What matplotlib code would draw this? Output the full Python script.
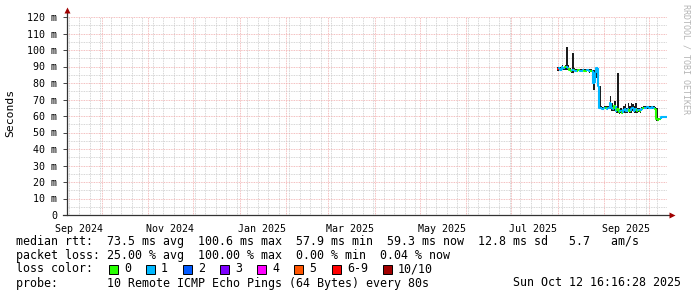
import matplotlib
matplotlib.use("Agg")
import matplotlib.pyplot as plt
import matplotlib.dates as mdates
import numpy as np
import pandas as pd
from matplotlib.patches import Rectangle

W, H = 697, 297
MONO = "DejaVu Sans Mono"

# time range of the graph (400 days back from the time stamp)
t_end = pd.Timestamp("2025-10-12 16:16:28")
t_start = t_end - pd.Timedelta(days=400)

# daily samples
data_start = "2025-07-31 12:00"
median_ms = [88.5, 89, 88, 89.5, 89, 90, 90, 89, 88, 87, 88, 88, 87.5, 87.5, 88,
             87.5, 87.5, 88, 87.5, 87.5, 88, 87.5, 87.5, 87, 80, 86, 89, 78, 65,
             65, 64.5, 65, 65, 64.5, 65, 68, 65, 64, 66, 63, 64, 62.5, 63, 62,
             63.5, 64, 63, 64.5, 63, 64, 65, 63, 64, 63, 63.5, 63, 64.5, 65, 65,
             65, 65.5, 65, 65, 65.5, 65, 64.5, 58, 57.5, 58, 59.5, 59.5, 59.5, 59.3]
smoke_lo = [87, 88, 87, 88, 88, 88, 88, 88, 87, 86, 86, 87, 87, 87, 87,
            87, 87, 87, 87, 87, 87, 86, 87, 84, 76, 80, 83, 76, 64,
            64, 64, 64, 64, 64, 64, 64, 63, 63, 63, 62, 62, 61.5, 62, 61,
            62, 62, 62, 63, 62, 62, 63, 62, 62, 62, 62.5, 62, 64, 64, 64.5,
            64.5, 64.5, 64.5, 64.5, 64.5, 64, 64, 57, 57, 57.5, 59, 59, 59, 59]
smoke_hi = [90, 90, 89.5, 91, 90, 91, 102, 91, 89, 88, 98, 89, 88.5, 88.5, 88.5,
            88.5, 88.5, 88.5, 88.5, 88.5, 88.5, 88.5, 88.5, 88, 88, 88, 90, 89, 78,
            66, 65.5, 66, 66, 66, 66, 72, 68, 65, 69, 64, 86, 64, 65, 63,
            66, 67, 65, 68, 66, 68, 67, 66, 68, 65, 65, 64, 65.5, 66, 66,
            66, 66, 66, 66, 66, 66, 65.5, 65, 58.5, 59, 60, 60, 60, 60]
loss_code = [6, 1, 1, 1, 1, 0, 1, 1, 0, 0, 1, 0, 1, 0, 0,
             1, 1, 1, 0, 0, 1, 1, 0, 1, 1, 1, 1, 1, 1,
             1, 1, 1, 0, 1, 1, 1, 1, 1, 0, 1, 0, 0, 1, 0,
             1, 1, 1, 1, 0, 1, 1, 1, 1, 0, 1, 0, 1, 0, 1,
             1, 1, 1, 1, 1, 1, 0, 0, 0, 0, 1, 1, 1, 1]

loss_labels = ["0", "1", "2", "3", "4", "5", "6-9", "10/10"]
loss_colors = ["#26ff00", "#00b8ff", "#0059ff", "#7e00ff", "#ff00ff",
               "#ff5500", "#ff0000", "#a10000"]
code_color = {0: 0, 1: 1, 2: 2, 3: 3, 4: 4, 5: 5, 6: 6, 7: 6, 8: 6, 9: 6, 10: 7}

y_ticks = list(range(0, 130, 10))
y_labels = ["0"] + [f"{v} m" for v in y_ticks[1:]]
month_labels = ["2024-09", "2024-11", "2025-01", "2025-03", "2025-05", "2025-07", "2025-09"]

legend_rows = [
    "median rtt:  73.5 ms avg  100.6 ms max  57.9 ms min  59.3 ms now  12.8 ms sd   5.7   am/s",
    "packet loss: 25.00 % avg  100.00 % max  0.00 % min  0.04 % now",
    "loss color:",
    "probe:       10 Remote ICMP Echo Pings (64 Bytes) every 80s",
]
stamp = "Sun Oct 12 16:16:28 2025"
FS = 8.34

fig = plt.figure(figsize=(W / 100, H / 100), dpi=100)
fig.patch.set_facecolor("white")
ax = fig.add_axes([67 / W, (H - 215) / H, 600 / W, 198 / H])
ax.set_facecolor("white")

days = pd.date_range(data_start, periods=len(median_ms), freq="D")
t = mdates.date2num(days)
step = 1.0

# smoke
ax.bar(t, np.array(smoke_hi) - np.array(smoke_lo), bottom=smoke_lo, width=step,
       align="edge", color="#1c1c1c", linewidth=0, zorder=3)

# median line coloured by loss
prev = median_ms[0]
for i, m in enumerate(median_ms):
    c = loss_colors[code_color[loss_code[i]]]
    ax.plot([t[i], t[i], t[i] + step], [prev, m, m], color=c, lw=1.5,
            solid_capstyle="butt", zorder=4)
    prev = m

ax.set_xlim(mdates.date2num(t_start), mdates.date2num(t_end))
ax.set_ylim(0, 120)

# grid
ax.xaxis.set_major_locator(mdates.MonthLocator(bymonthday=1))
ax.xaxis.set_minor_locator(mdates.WeekdayLocator(byweekday=mdates.MO))
ax.xaxis.set_major_formatter(plt.NullFormatter())
ax.set_yticks(y_ticks)
ax.set_yticklabels(y_labels, family=MONO, fontsize=7.2)
ax.set_yticks(np.arange(5, 120, 10), minor=True)
ax.grid(which="minor", color="#c8c8c8", lw=0.6, ls=(0, (1, 1)), zorder=0)
ax.grid(which="major", color="#f0a8a8", lw=0.6, ls=(0, (1, 1)), zorder=1)
ax.tick_params(axis="x", which="both", length=0)
ax.tick_params(axis="y", which="major", length=3, width=0.7, color="#444444", pad=4)
ax.tick_params(axis="y", which="minor", length=0)

# month labels, every second month, centred on mid-month
for ym in month_labels:
    lab_day = pd.Timestamp(ym + "-15 12:00")
    ax.text(mdates.date2num(lab_day), -0.045, lab_day.strftime("%b %Y"),
            transform=ax.get_xaxis_transform(), ha="center", va="top",
            family=MONO, fontsize=7.2)

for s in ax.spines.values():
    s.set_visible(False)
ax.plot([-4 / 600, 604 / 600], [0, 0], transform=ax.transAxes, color="#333333",
        lw=0.9, clip_on=False, zorder=5)
ax.plot([0, 0], [0, 1.03], transform=ax.transAxes, color="#333333",
        lw=0.9, clip_on=False, zorder=5)
ax.plot([1.008], [0], marker=">", ms=4, color="#a00000", transform=ax.transAxes,
        clip_on=False, zorder=6, mec="none")
ax.plot([0], [1.035], marker="^", ms=4, color="#a00000", transform=ax.transAxes,
        clip_on=False, zorder=6, mec="none")

fig.text(10 / W, 1 - 113 / H, "Seconds", rotation=90, ha="center", va="center",
         family=MONO, fontsize=8.2)
fig.text(686 / W, 1 - 4 / H, "RRDTOOL / TOBI OETIKER", rotation=270, ha="center",
         va="top", family=MONO, fontsize=6, color="#b4b4b4")

# legend block
row_y = [241, 255, 269, 283]
for y, row in zip(row_y, legend_rows):
    fig.text(16 / W, 1 - y / H, row, ha="left", va="center", family=MONO, fontsize=FS)
fig.text(681 / W, 1 - row_y[3] / H, stamp, ha="right", va="center", family=MONO,
         fontsize=FS)

sw_x = [109, 146, 183, 220, 257, 294, 332, 383]
for x0, lab, col in zip(sw_x, loss_labels, loss_colors):
    fig.patches.append(Rectangle((x0 / W, 1 - (row_y[2] + 5) / H), 9 / W, 9 / H,
                                 transform=fig.transFigure, facecolor=col,
                                 edgecolor="black", lw=0.7))
    fig.text((x0 + 15) / W, 1 - row_y[2] / H, lab, ha="left", va="center",
             family=MONO, fontsize=FS)

fig.savefig("out.png", dpi=100, facecolor="white")
